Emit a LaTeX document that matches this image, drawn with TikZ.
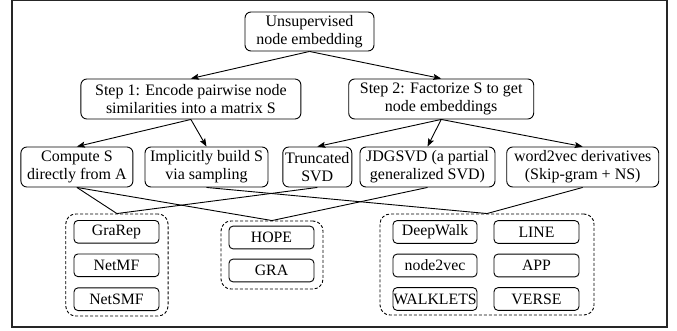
\documentclass[tikz,border=0pt]{standalone}
\usepackage{fontspec}
\setmainfont{Liberation Serif}
\usetikzlibrary{arrows.meta}
\begin{document}
\begin{tikzpicture}[x=1pt,y=-1pt,
  box/.style={draw, rounded corners=6pt, line width=0.9pt, inner sep=0pt, align=center, minimum height=40pt, font=\fontsize{16}{18}\selectfont},
  item/.style={draw, rounded corners=4pt, line width=0.9pt, inner sep=0pt, minimum width=85pt, minimum height=22.7pt, font=\fontsize{15.8}{18}\selectfont},
  grp/.style={draw, dash pattern=on 3pt off 2pt, rounded corners=10pt, line width=0.9pt, inner sep=0pt},
  arr/.style={-{Stealth[length=8pt,width=6pt,inset=1.5pt]}, line width=0.9pt},
  lnk/.style={line width=0.9pt}]
\useasboundingbox (0,0) rectangle (677,331);
\draw[line width=1.5pt, black!85] (12,0.75) rectangle (667,327);

% top levels
\node[box, minimum width=129pt, minimum height=39pt] (top) at (309.5,31.5) {Unsupervised\\node embedding};
\node[box, minimum width=220pt] (s1) at (190.9,99) {Step 1: Encode pairwise node\\similarities into a matrix S};
\node[box, minimum width=185pt] (s2) at (441.2,99) {Step 2: Factorize S to get\\node embeddings};

% third row
\node[box, minimum width=112pt] (cs) at (76.9,167) {Compute S\\directly from A};
\node[box, minimum width=123pt] (ib) at (206.5,167) {Implicitly build S\\via sampling};
\node[box, minimum width=69pt] (ts) at (317.3,167) {Truncated\\SVD};
\node[box, minimum width=135pt] (jd) at (427.5,167) {JDGSVD (a partial\\generalized SVD)};
\node[box, minimum width=152pt] (wv) at (582.7,167) {word2vec derivatives\\(Skip-gram + NS)};

% groups
\node[grp, minimum width=102.3pt, minimum height=102pt] (g1) at (116.9,265) {};
\node[grp, minimum width=102pt, minimum height=68pt] (g2) at (272,255) {};
\node[grp, minimum width=214pt, minimum height=101pt] (g3) at (487,264.5) {};

% group items
\node[item] (grarep) at (116.5,231.8) {GraRep};
\node[item] (netmf) at (116.5,265.3) {NetMF};
\node[item] (netsmf) at (116.5,299.2) {NetSMF};
\node[item] (hope) at (271.5,237.5) {HOPE};
\node[item] (gra) at (271.5,270.5) {GRA};
\node[item, minimum width=84pt] (deepwalk) at (435,232) {DeepWalk};
\node[item, minimum width=84pt] (n2v) at (435,265.5) {node2vec};
\node[item, minimum width=84pt] (walklets) at (435,299) {WALKLETS};
\node[item] (line) at (536.5,232) {LINE};
\node[item] (app) at (536.5,265.5) {APP};
\node[item] (verse) at (536.5,299) {VERSE};

% arrows
\draw[arr] (top.south) -- (s1.north);
\draw[arr] (top.south) -- (s2.north);
\draw[arr] (s1.south) -- (cs.north);
\draw[arr] (s1.south) -- (ib.north);
\draw[arr] (s2.south) -- (ts.north);
\draw[arr] (s2.south) -- (jd.north);
\draw[arr] (s2.south) -- (wv.north);

% links
\draw[lnk] (cs.south) -- (g1.north);
\draw[lnk] (cs.south) -- (g2.north);
\draw[lnk] (ib.south) -- (g3.north);
\draw[lnk] (ts.south) -- (g1.north);
\draw[lnk] (jd.south) -- (g2.north);
\draw[lnk] (wv.south) -- (g3.north);
\end{tikzpicture}
\end{document}
